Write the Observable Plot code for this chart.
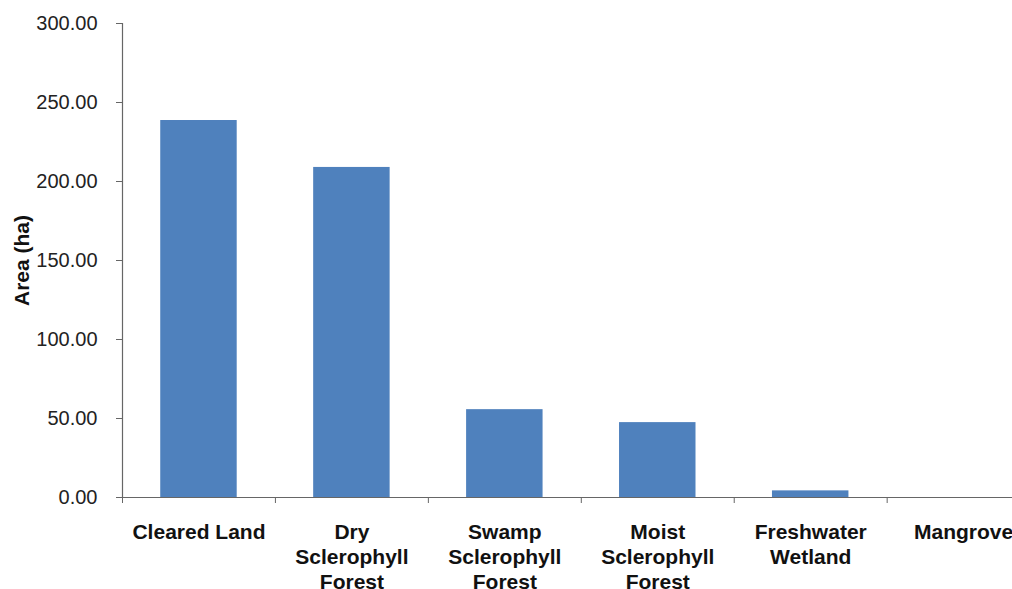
<!DOCTYPE html>
<html><head><meta charset="utf-8">
<script src="https://cdn.jsdelivr.net/npm/d3@7"></script>
<script src="https://cdn.jsdelivr.net/npm/@observablehq/plot@0.6"></script>
<style>
html,body{margin:0;padding:0;background:#fff;overflow:hidden}
svg{font-family:"Liberation Sans",Arial,sans-serif}
</style>
</head><body><div id="chart"></div>
<script>
const categories = ["Cleared Land","Dry Sclerophyll Forest","Swamp Sclerophyll Forest","Moist Sclerophyll Forest","Freshwater Wetland","Mangrove"];
const tickLabels = ["Cleared Land","Dry\nSclerophyll\nForest","Swamp\nSclerophyll\nForest","Moist\nSclerophyll\nForest","Freshwater\nWetland","Mangrove"];
const areaHa = [238.6, 208.9, 55.6, 47.4, 4.2, 0];
const yTicks = [0, 50, 100, 150, 200, 250, 300];
const yLabel = "Area (ha)";

const data = categories.map((c, i) => ({category: c, area: areaHa[i]}));
const xRange = [122, 1039.6];
const step = (xRange[1] - xRange[0]) / categories.length;
const axisColor = "#666";

const chart = Plot.plot({
  width: 1012, height: 589,
  marginLeft: 122, marginTop: 23, marginBottom: 92, marginRight: 0,
  style: {fontFamily: '"Liberation Sans", Arial, sans-serif', background: "#fff", color: "#222"},
  x: {domain: categories, range: xRange, paddingInner: 0.5, paddingOuter: 0.25, round: false},
  y: {domain: [0, 300]},
  marks: [
    Plot.barY(data, {x: "category", y: "area", fill: "#4F81BD"}),
    Plot.ruleY([0], {stroke: axisColor, strokeWidth: 1.2}),
    Plot.frame({anchor: "left", stroke: axisColor, strokeWidth: 1.2}),
    Plot.axisY({ticks: yTicks, tickFormat: d3.format(".2f"), tickSize: 6, tickPadding: 19,
      fontSize: 20, stroke: axisColor, fill: "#222", label: null, style: "letter-spacing:0.5px"}),
    Plot.axisX({tickSize: 6, tickFormat: () => "", dx: -step / 2, stroke: axisColor, label: null}),
    Plot.axisX({tickSize: 0, tickPadding: 24.5, tickFormat: d => tickLabels[categories.indexOf(d)],
      fontSize: 21, fontWeight: "bold", lineHeight: 1.17, fill: "#111", label: null}),
    Plot.text([yLabel], {frameAnchor: "left", textAnchor: "middle", rotate: -90, dx: -100,
      fontSize: 21, fontWeight: "bold", fill: "#111"})
  ]
});
document.getElementById("chart").appendChild(chart);
</script>
</body></html>
